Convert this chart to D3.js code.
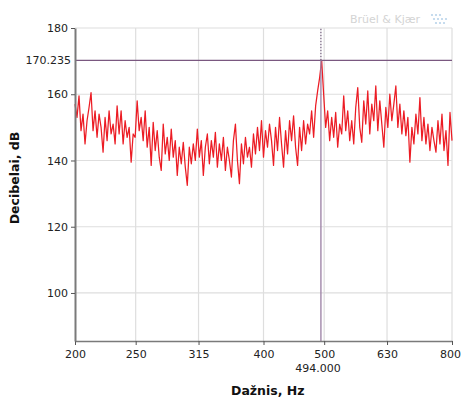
<!DOCTYPE html>
<html>
<head>
<meta charset="utf-8">
<script src="https://cdn.jsdelivr.net/npm/d3@7"></script>
<style>
  body { margin: 0; background: #fff; }
  text { font-family: "DejaVu Sans", Verdana, sans-serif; }
</style>
</head>
<body>
<svg id="chart"></svg>
<script>
const width = 461
const height = 399

// tick labels on the frequency axis (third-octave centres)
const freqTicks = [200, 250, 315, 400, 500, 630, 800]
const dbTicks = [100, 120, 140, 160, 180]

// cursor readout
const cursorFreq = 494.0
const cursorLevel = 170.235

// spectrum levels (dB), log spaced from 200 to 800 Hz
const levels = [
    157, 153, 159.5, 149, 154, 145, 152, 156, 160.5, 149,
    155, 147, 154, 150, 142.5, 153, 146, 155, 148, 151,
    145, 156.5, 148, 155, 145, 152, 147, 150, 139.5, 148,
    147, 158, 149, 153, 146, 155, 144, 150, 138.5, 151.5,
    143, 149, 141, 137, 151, 142, 147, 140, 149.5, 141,
    146, 135.5, 144, 139, 145.5, 138, 132.5, 144, 139, 145,
    140, 149.5, 141, 146, 135.5, 144, 148, 139, 146, 141,
    148.5, 138, 145, 140, 147, 137, 144, 140, 135, 146,
    151, 140, 133, 145, 139, 147, 141, 144, 138, 148,
    142, 150, 143, 152, 141, 149, 144, 151, 146, 138.5,
    150, 143, 153, 145, 138, 149, 142, 152, 146, 153.5,
    144, 138.5, 150, 143, 152, 145, 151, 148, 155, 147,
    156.5, 161, 165, 170.235, 160, 150, 155, 146, 153, 147,
    154.5, 144, 151, 148, 159.5, 149, 155, 146, 152, 145,
    156, 162, 150, 145.5, 158, 151, 161, 148, 157, 152,
    162.5, 149, 158, 151, 144, 156, 150, 160, 152, 157,
    162.5, 150, 157, 148, 155, 147.5, 153, 139.5, 150, 145,
    154, 148, 159, 146, 153, 145, 151, 143, 150, 146,
    142.5, 152, 145, 154, 143, 149, 138.5, 154.5, 146
]

const fMin = 200
const fMax = 800
const freqs = levels.map((_, i) => fMin * Math.pow(fMax / fMin, i / (levels.length - 1)))
const spectrum = levels.map((v, i) => ({ f: freqs[i], db: v }))

const margin = { left: 75, right: 9, top: 28, bottom: 58 }

const svg = d3.select("#chart")
    .attr("width", width)
    .attr("height", height)
    .attr("viewBox", [0, 0, width, height])

const x = d3.scaleLog()
    .domain([fMin, fMax])
    .range([margin.left, width - margin.right])

const y = d3.scaleLinear()
    .domain([85.5, 180])
    .range([height - margin.bottom, margin.top])

const plotBottom = height - margin.bottom

// grid
const grid = svg.append("g").attr("stroke", "#dedede").attr("stroke-width", 1.2)
grid.selectAll("line.v")
    .data(freqTicks.slice(1))
    .join("line")
    .attr("x1", d => x(d)).attr("x2", d => x(d))
    .attr("y1", margin.top).attr("y2", plotBottom)
grid.selectAll("line.h")
    .data(dbTicks)
    .join("line")
    .attr("x1", margin.left).attr("x2", x(fMax))
    .attr("y1", d => y(d)).attr("y2", d => y(d))

// spectrum line
const line = d3.line()
    .x(d => x(d.f))
    .y(d => y(d.db))

svg.append("path")
    .datum(spectrum)
    .attr("fill", "none")
    .attr("stroke", "#ec1c24")
    .attr("stroke-width", 1.25)
    .attr("stroke-linejoin", "round")
    .attr("d", line)

// cursors
svg.append("line")
    .attr("x1", margin.left).attr("x2", x(fMax))
    .attr("y1", y(cursorLevel)).attr("y2", y(cursorLevel))
    .attr("stroke", "#7a5880")
    .attr("stroke-width", 1.2)

svg.append("line")
    .attr("x1", x(cursorFreq)).attr("x2", x(cursorFreq))
    .attr("y1", plotBottom).attr("y2", y(cursorLevel))
    .attr("stroke", "#9d83a6")
    .attr("stroke-opacity", 0.85)
    .attr("stroke-width", 1.6)

svg.append("line")
    .attr("x1", x(cursorFreq)).attr("x2", x(cursorFreq))
    .attr("y1", y(cursorLevel)).attr("y2", margin.top)
    .attr("stroke", "#6e5a78")
    .attr("stroke-width", 1.2)
    .attr("stroke-dasharray", "1.5,1.5")

// axes
const xAxis = d3.axisBottom(x)
    .tickValues(freqTicks)
    .tickFormat(d3.format("d"))
    .tickSize(4)
    .tickSizeOuter(0)

const gx = svg.append("g")
    .attr("transform", `translate(0,${plotBottom})`)
    .call(xAxis)
gx.select(".domain").attr("stroke", "#7a7a7a").attr("stroke-width", 1.5)
gx.selectAll(".tick line").attr("stroke", "#555")
gx.selectAll(".tick text")
    .attr("font-size", 11)
    .attr("fill", "#222")
    .attr("dy", "0.9em")
    .attr("dx", d => d === fMax ? -2 : 0)
    .attr("font-family", "DejaVu Sans, sans-serif")

const yAxis = d3.axisLeft(y)
    .tickValues(dbTicks)
    .tickSize(4)
    .tickSizeOuter(0)

const gy = svg.append("g")
    .attr("transform", `translate(${margin.left},0)`)
    .call(yAxis)
gy.select(".domain").attr("stroke", "#7a7a7a").attr("stroke-width", 2)
gy.selectAll(".tick line").attr("stroke", "#555")
gy.selectAll(".tick text")
    .attr("font-size", 11)
    .attr("fill", "#222")
    .attr("font-family", "DejaVu Sans, sans-serif")

// cursor readouts on axes
svg.append("text")
    .attr("x", margin.left - 4)
    .attr("y", y(cursorLevel))
    .attr("dy", "0.32em")
    .attr("text-anchor", "end")
    .attr("font-size", 11)
    .attr("fill", "#222")
    .text(d3.format(".3f")(cursorLevel))

svg.append("text")
    .attr("x", x(cursorFreq) - 3)
    .attr("y", plotBottom + 31)
    .attr("text-anchor", "middle")
    .attr("font-size", 11)
    .attr("fill", "#222")
    .text(d3.format(".3f")(cursorFreq))

// axis titles
svg.append("text")
    .attr("transform", `translate(19,178) rotate(-90)`)
    .attr("text-anchor", "middle")
    .attr("font-size", 12.5)
    .attr("font-weight", "bold")
    .attr("fill", "#111")
    .text("Decibelai, dB")

svg.append("text")
    .attr("x", 231)
    .attr("y", 395)
    .attr("font-size", 12.5)
    .attr("font-weight", "bold")
    .attr("fill", "#111")
    .text("Dažnis, Hz")

// watermark
svg.append("text")
    .attr("x", 350)
    .attr("y", 23)
    .attr("font-size", 11)
    .attr("fill", "#d4d4d4")
    .text("Brüel & Kjær")

const logo = svg.append("g").attr("fill", "#b9d4ea")
const dots = [[432, 15], [436, 15], [440, 15], [434, 19], [438, 19], [442, 19], [446, 19], [436, 23], [440, 23], [444, 23]]
logo.selectAll("circle")
    .data(dots)
    .join("circle")
    .attr("cx", d => d[0])
    .attr("cy", d => d[1])
    .attr("r", 1.1)
</script>
</body>
</html>
